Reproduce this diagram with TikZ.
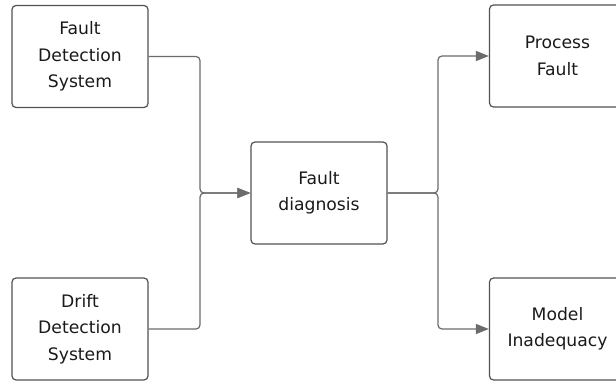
\documentclass[tikz,border=0pt]{standalone}
\usepackage{fontspec}
\setmainfont{DejaVu Sans}
\usetikzlibrary{arrows.meta}
\definecolor{boxline}{HTML}{505257}
\definecolor{wire}{HTML}{6B6B6B}
\definecolor{ink}{HTML}{1A1A1A}
\begin{document}
\begin{tikzpicture}[x=1pt,y=-1pt,
  block/.style={draw=boxline,line width=1.2pt,rounded corners=4pt,
    minimum width=136pt,minimum height=102pt,inner sep=0pt,
    align=center,text=ink,font=\fontsize{17.2}{26.5}\selectfont},
  wirepath/.style={draw=wire,line width=1.2pt,rounded corners=4pt,
    -{Triangle[length=13pt,width=10pt]}}]
\useasboundingbox (0,0) rectangle (616,385);
\clip (0,0) rectangle (616,385);
% boxes
\node[block] (fds) at (80,56.5) {Fault\\Detection\\System};
\node[block] (dds) at (80,329) {Drift\\Detection\\System};
\node[block] (fd) at (319,193) {Fault\\diagnosis};
\node[block] (pf) at (557.5,56) {Process\\Fault};
\node[block] (mi) at (557.5,329) {Model\\Inadequacy};
% merge points
\coordinate (jl) at (200,193);
\coordinate (jr) at (438,193);
% inputs to diagnosis
\draw[wirepath] (fds.east) -- (fds.east -| jl) -- (jl) -- (fd.west);
\draw[wirepath] (dds.east) -- (dds.east -| jl) -- (jl) -- (fd.west);
% diagnosis outcomes
\draw[wirepath] (fd.east) -- (jr) -- (jr |- pf.west) -- (pf.west);
\draw[wirepath] (fd.east) -- (jr) -- (jr |- mi.west) -- (mi.west);
\end{tikzpicture}
\end{document}
